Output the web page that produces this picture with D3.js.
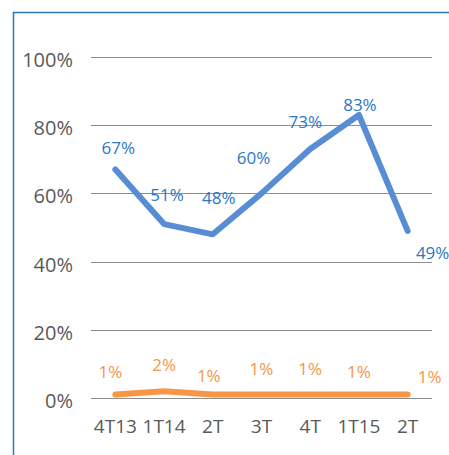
<!DOCTYPE html>
<html>
<head>
<meta charset="utf-8">
<script src="https://cdn.jsdelivr.net/npm/d3@7"></script>
<style>
  body { margin: 0; background: #fff; }
  svg { display: block; font-family: "Open Sans", Lato, sans-serif; }
</style>
</head>
<body>
<script>
const categories = ['4T13', '1T14', '2T', '3T', '4T', '1T15', '2T '];
const blueValues = [67, 51, 48, 60, 73, 83, 49];
const orangeValues = [1, 2, 1, 1, 1, 1, 1];
const yTicks = [0, 20, 40, 60, 80, 100];

// where each data label sits relative to its point
const blueLabelOffsets = [[3, -21], [3, -29], [6, -36], [-8, -35], [-5, -27], [1, -10], [25, 22]];
const orangeLabelOffsets = [[-5, -23], [0, -26], [-4, -19], [0, -26], [0, -26], [0, -23], [22, -18]];

const width = 449;
const height = 455;
const margin = { top: 57, right: 17, bottom: 57, left: 91 };

const svg = d3.select('body')
    .append('svg')
    .attr('width', width)
    .attr('height', height);

// frame
svg.append('path')
    .attr('d', `M13.5,${height} V12.5 H${width}`)
    .attr('fill', 'none')
    .attr('stroke', '#2e75b6')
    .attr('stroke-width', 1.5);

const x = d3.scaleBand()
    .domain(categories)
    .range([margin.left, width - margin.right]);

const y = d3.scaleLinear()
    .domain([0, 100])
    .range([height - margin.bottom, margin.top]);

const cx = d => x(d) + x.bandwidth() / 2;

// gridlines
svg.append('g')
    .selectAll('line')
    .data(yTicks)
    .join('line')
    .attr('x1', margin.left)
    .attr('x2', width - margin.right)
    .attr('y1', d => Math.round(y(d)) + 0.5)
    .attr('y2', d => Math.round(y(d)) + 0.5)
    .attr('stroke', '#8c8c8c')
    .attr('stroke-width', 1);

// y tick labels
svg.append('g')
    .selectAll('text')
    .data(yTicks)
    .join('text')
    .attr('x', margin.left - 18)
    .attr('y', d => y(d) + 3)
    .attr('dy', '0.35em')
    .attr('text-anchor', 'end')
    .attr('font-size', 20)
    .attr('fill', '#595959')
    .text(d => d + '%');

// x tick labels
svg.append('g')
    .selectAll('text')
    .data(categories)
    .join('text')
    .attr('x', d => cx(d))
    .attr('y', height - margin.bottom + 35)
    .attr('text-anchor', 'middle')
    .attr('font-size', 19)
    .attr('fill', '#595959')
    .text(d => d.trim());

const drawSeries = (values, offsets, lineColor, textColor) => {
    const pts = values.map((v, i) => ({ cat: categories[i], v, off: offsets[i] }));

    const line = d3.line()
        .x(d => cx(d.cat))
        .y(d => y(d.v));

    svg.append('path')
        .datum(pts)
        .attr('d', line)
        .attr('fill', 'none')
        .attr('stroke', lineColor)
        .attr('stroke-width', 6)
        .attr('stroke-linejoin', 'round')
        .attr('stroke-linecap', 'round');

    svg.append('g')
        .selectAll('text')
        .data(pts)
        .join('text')
        .attr('x', d => cx(d.cat) + d.off[0])
        .attr('y', d => y(d.v) + d.off[1])
        .attr('dy', '0.35em')
        .attr('text-anchor', 'middle')
        .attr('font-size', 17)
        .attr('fill', textColor)
        .text(d => d.v + '%');
};

drawSeries(blueValues, blueLabelOffsets, '#588dd6', '#2a78c4');
drawSeries(orangeValues, orangeLabelOffsets, '#f79646', '#f79646');
</script>
</body>
</html>
